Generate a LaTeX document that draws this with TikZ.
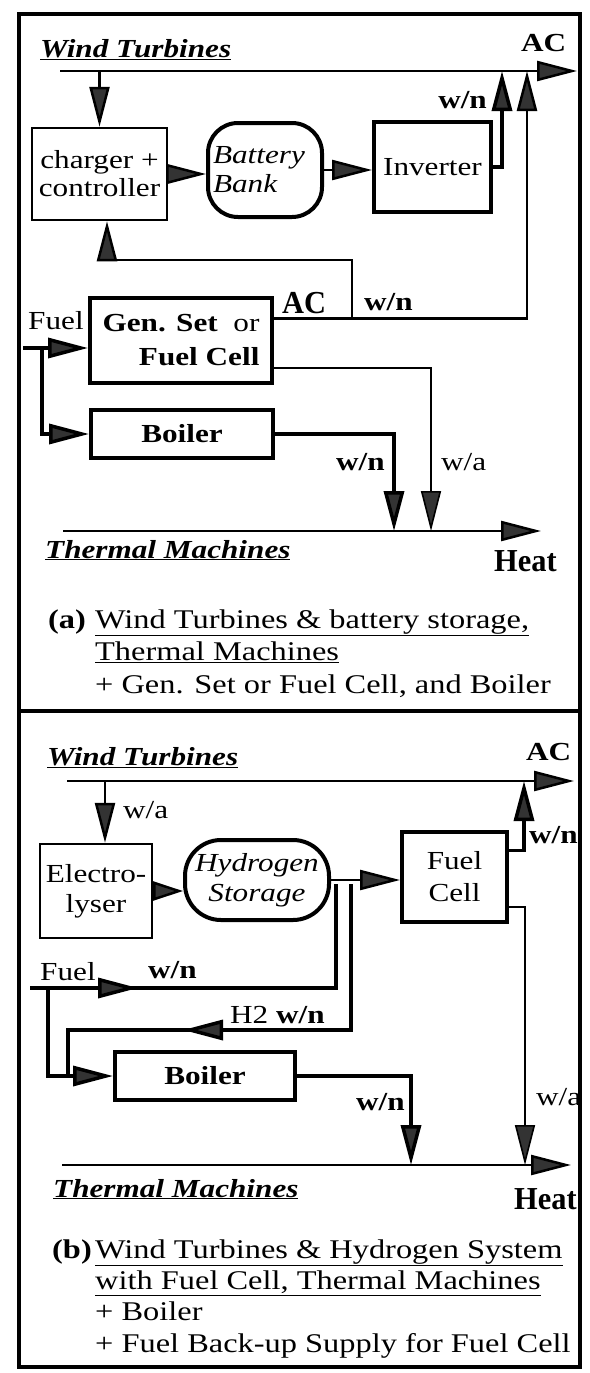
\documentclass[tikz,border=0pt]{standalone}
\usepackage{fontspec}
\setmainfont{Liberation Serif}[FakeStretch=1.2]
\newfontfamily\tallfont{Liberation Serif}[FakeStretch=0.95]
\usepackage{tikz}
\usetikzlibrary{arrows.meta, calc}

\begin{document}
\begin{tikzpicture}[x=1pt, y=-1pt,
    txt/.style={font=\fontsize{26}{29}\selectfont, inner sep=0pt, anchor=base west},
    bld/.style={txt, font=\fontsize{26}{29}\selectfont\bfseries},
    big/.style={txt, font=\tallfont\fontsize{32}{36}\selectfont\bfseries},
    head/.style={txt, font=\fontsize{26}{29}\selectfont\bfseries\itshape},
    captxt/.style={txt, align=left, font=\fontsize{27}{32.5}\selectfont},
    box/.style={draw, line width=2.5pt, align=center, inner sep=0pt, font=\fontsize{26}{29}\selectfont},
    hvy/.style={line width=4pt},
    store/.style={box, hvy, rounded corners=30pt, font=\fontsize{26}{29}\selectfont\itshape},
    frame/.style={line width=3.5pt},
    wire/.style={line width=2.5pt},
    fat/.style={line width=3.5pt},
    slim/.style={line width=1.6pt},
    tip/.style={-{Triangle[length=40pt,width=20pt,fill=black!80]}},
    tips/.style={-{Triangle[length=30pt,width=19pt,fill=black!80]}}]
    \useasboundingbox (0,0) rectangle (589,1373);

    % 外框
    \draw[frame] (19,14) rectangle (580,1367);
    \draw[frame] (19,711) -- (580,711);

    % (a) 风机与蓄电池
    \node[head] (windA) at (40,57) {\underline{Wind Turbines}};
    \node[bld] (acA) at (521,51) {AC};
    \coordinate (busA0) at (60,71);
    \coordinate (busA1) at (577,71);
    \draw[wire, tip] (busA0) -- (busA1);

    \node[box, minimum width=135pt, minimum height=92pt, font=\fontsize{26}{28}\selectfont] (chg) at (99.5,174) {charger +\\controller};
    \node[store, minimum width=114pt, minimum height=94pt, text width=104pt, align=left] (bat) at (265,170) {Battery\\Bank};
    \node[box, hvy, minimum width=117pt, minimum height=90pt] (inv) at (432.5,167) {Inverter};

    \draw[wire, tip] (chg.north |- busA0) -- (chg.north);
    \draw[wire, tip] (chg.east) -- (chg.east -| bat.west);
    \draw[wire, tip] (bat.east) -- (bat.east -| inv.west);
    \coordinate (upA1) at (502,71);
    \draw[fat, tip] (inv.east) -| (upA1);
    \node[bld, anchor=base east] (wnA1) at (487,108) {w/n};

    % 发电机组 / 燃料电池
    \node[box, hvy, minimum width=182pt, minimum height=85pt, align=right, font=\fontsize{26}{34}\selectfont] (gen) at (181,340.5) {\textbf{Gen. Set}\ \ or\\\textbf{Fuel Cell}};
    \coordinate (genAC) at ($(gen.north east)!.25!(gen.south east)$);
    \coordinate (upA2) at (527,71);
    \draw[wire, tip] (genAC) -| (upA2);
    \coordinate (fbA0) at (352,319);
    \coordinate (fbA1) at (107,260);
    \draw[wire, tip] (fbA0) |- (fbA1) -- (fbA1 |- chg.south);
    \node[big] (acMid) at (282,313) {AC};
    \node[bld] (wnA2) at (364,310) {w/n};

    % 燃料与锅炉
    \node[txt] (fuelA) at (28,329) {Fuel};
    \coordinate (fuelA0) at (23,348);
    \coordinate (fuelA1) at (42,348);
    \draw[fat, tip] (fuelA0) -- (fuelA0 -| gen.west);
    \node[box, hvy, minimum width=182pt, minimum height=48pt, font=\fontsize{26}{29}\selectfont\bfseries] (boilA) at (182,434) {Boiler};
    \draw[fat, tip] (fuelA1) |- (boilA.west);

    % 热
    \coordinate (heatA0) at (63,531);
    \coordinate (heatA1) at (541,531);
    \draw[wire, tip] (heatA0) -- (heatA1);
    \coordinate (dnA1) at (394,531);
    \coordinate (dnA2) at (431,531);
    \draw[fat, tip] (boilA.east) -| (dnA1);
    \coordinate (genH) at ($(gen.north east)!.81!(gen.south east)$);
    \draw[slim, tip] (genH) -| (dnA2);
    \node[bld] (wnA3) at (336,470) {w/n};
    \node[txt] (waA) at (441,470) {w/a};
    \node[head] (thermA) at (45,558) {\underline{Thermal Machines}};
    \node[big] (heatA) at (494,571) {Heat};

    % 图注 (a)
    \node[captxt, font=\fontsize{27}{32.5}\selectfont\bfseries] (capAl) at (48,628) {(a)};
    \node[captxt] (capA) at (95,693) {\underline{Wind Turbines \& battery storage,}\\\underline{Thermal Machines}\\+ Gen. Set or Fuel Cell, and Boiler};

    % (b) 风机与氢系统
    \node[head] (windB) at (47,765) {\underline{Wind Turbines}};
    \node[bld] (acB) at (526,760) {AC};
    \coordinate (busB0) at (67,781);
    \coordinate (busB1) at (574,781);
    \draw[wire, tip] (busB0) -- (busB1);

    \node[box, minimum width=112pt, minimum height=94pt, font=\fontsize{26}{30}\selectfont] (ely) at (96,891) {Electro-\\lyser};
    \coordinate (elyin) at ([xshift=9pt]ely.north);
    \draw[wire, tip] (elyin |- busB0) -- (elyin);
    \node[txt] (waB1) at (123,818) {w/a};
    \node[store, minimum width=144pt, minimum height=80pt, rounded corners=36pt, font=\fontsize{26}{30}\selectfont\itshape] (h2) at (257,880) {Hydrogen\\Storage};
    \draw[wire, tips] (ely.east) -- (ely.east -| h2.west);
    \node[box, hvy, minimum width=105pt, minimum height=90pt, font=\fontsize{26}{32}\selectfont] (fc) at (454.5,877) {Fuel\\Cell};
    \draw[wire, tip] (h2.east) -- (h2.east -| fc.west);
    \coordinate (fcAC) at ($(fc.north east)!.22!(fc.south east)$);
    \coordinate (upB) at (524,781);
    \draw[fat, tip] (fcAC) -| (upB);
    \node[bld] (wnB1) at (529,843) {w/n};

    % 燃料与氢气回路
    \node[txt] (fuelB) at (40,980) {Fuel};
    \node[bld] (wnB2) at (148,978) {w/n};
    \coordinate (fuelB0) at (30,988);
    \coordinate (fuelB1) at (138,988);
    \coordinate (fuelB2) at (48,988);
    \coordinate (h2v1) at (336,884);
    \coordinate (h2v2) at (351,884);
    \draw[fat] (fuelB0) -| (h2v1);
    \draw[fat, tip] (fuelB0) -- (fuelB1);
    \node[box, hvy, minimum width=180pt, minimum height=48pt, font=\fontsize{26}{29}\selectfont\bfseries] (boilB) at (205,1076) {Boiler};
    \draw[fat, tip] (fuelB2) |- (boilB.west);
    \coordinate (h2b0) at (183,1030);
    \coordinate (h2b1) at (68,1076);
    \draw[fat] (h2v2) |- (h2b1 |- h2b0) -- (h2b1);
    \draw[fat, tip] (h2v2) |- (h2b0);
    \node[txt] (h2lbl) at (230,1023) {H2 \textbf{w/n}};

    % 热
    \coordinate (heatB0) at (62,1165);
    \coordinate (heatB1) at (571,1165);
    \draw[wire, tip] (heatB0) -- (heatB1);
    \coordinate (dnB1) at (411,1165);
    \coordinate (dnB2) at (525,1165);
    \draw[fat, tip] (boilB.east) -| (dnB1);
    \coordinate (fcH) at ($(fc.north east)!.82!(fc.south east)$);
    \draw[slim, tip] (fcH) -| (dnB2);
    \node[bld] (wnB3) at (356,1110) {w/n};
    \node[txt] (waB2) at (536,1105) {w/a};
    \node[head] (thermB) at (53,1197) {\underline{Thermal Machines}};
    \node[big] (heatB) at (514,1209) {Heat};

    % 图注 (b)
    \node[captxt, font=\fontsize{27}{31.3}\selectfont\bfseries] (capBl) at (52,1258) {(b)};
    \node[captxt, font=\fontsize{27}{31.3}\selectfont] (capB) at (95,1352) {\underline{Wind Turbines \& Hydrogen System}\\\underline{with Fuel Cell, Thermal Machines}\\+ Boiler\\+ Fuel Back-up Supply for Fuel Cell};
\end{tikzpicture}
\end{document}
